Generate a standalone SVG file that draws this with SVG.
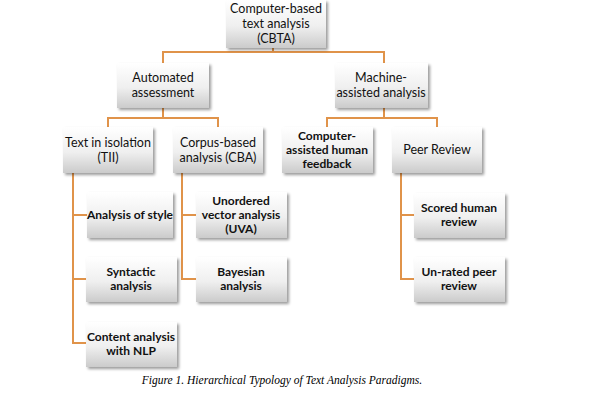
<svg xmlns="http://www.w3.org/2000/svg" width="595" height="402" viewBox="0 0 595 402">
<defs>
<linearGradient id="g" x1="0" y1="0" x2="0" y2="1">
<stop offset="0" stop-color="#ffffff"/>
<stop offset="0.55" stop-color="#efefef"/>
<stop offset="1" stop-color="#cbcbcb"/>
</linearGradient>
<filter id="sh" x="-10%" y="-10%" width="125%" height="130%">
<feGaussianBlur in="SourceAlpha" stdDeviation="1.5"/>
<feOffset dx="1.5" dy="2" result="b"/>
<feComponentTransfer><feFuncA type="linear" slope="0.4"/></feComponentTransfer>
<feMerge><feMergeNode/><feMergeNode in="SourceGraphic"/></feMerge>
</filter>
</defs>
<style>
rect.n{fill:url(#g);filter:url(#sh);}
text{font-family:Lato,"Open Sans","Liberation Sans",sans-serif;font-size:12.5px;fill:#111;text-anchor:middle;}
text.b{font-weight:bold;font-size:12px;}
.c path{fill:none;stroke:#E0934A;stroke-width:2;}
text.cap{font-family:"Liberation Serif","Times New Roman",serif;font-style:italic;font-size:11.5px;fill:#000;}
</style>
<rect width="595" height="402" fill="#ffffff"/>
<g class="c">
<path d="M273,48 V52 M163,63 V52 H384 V63"/>
<path d="M163,108 V118 M108,127 V118 H218 V127"/>
<path d="M384,108 V118 M327,127 V118 H437 V127"/>
<path d="M73,173 V343 H86 M73,215 H87 M73,279 H86"/>
<path d="M182,173 V279 H196 M182,215 H196"/>
<path d="M401,173 V279 H414 M401,215 H414"/>
</g>
<g id="cbta"><rect class="n" x="226" y="0" width="100" height="48"/><text x="276" y="13">Computer-based</text><text x="276" y="28">text analysis</text><text x="276" y="43">(CBTA)</text></g>
<g id="auto"><rect class="n" x="117" y="63" width="92" height="45"/><text x="163" y="82">Automated</text><text x="163" y="97">assessment</text></g>
<g id="mach"><rect class="n" x="335" y="63" width="93" height="45"/><text x="381" y="82">Machine-</text><text x="381" y="97">assisted analysis</text></g>
<g id="tii"><rect class="n" x="63" y="127" width="90" height="46"/><text x="108" y="147">Text in isolation</text><text x="108" y="162">(TII)</text></g>
<g id="cba"><rect class="n" x="173" y="127" width="90" height="46"/><text x="218" y="147">Corpus-based</text><text x="218" y="162">analysis (CBA)</text></g>
<g id="cahf"><rect class="n" x="282" y="127" width="91" height="46"/><text class="b" x="327" y="140">Computer-</text><text class="b" x="327" y="154">assisted human</text><text class="b" x="327" y="168">feedback</text></g>
<g id="peer"><rect class="n" x="392" y="127" width="90" height="46"/><text x="437" y="154">Peer Review</text></g>
<g id="style"><rect class="n" x="87" y="192" width="86" height="46"/><text class="b" x="130" y="219">Analysis of style</text></g>
<g id="uva"><rect class="n" x="196" y="192" width="91" height="46"/><text class="b" x="241" y="205">Unordered</text><text class="b" x="241" y="219">vector analysis</text><text class="b" x="241" y="233">(UVA)</text></g>
<g id="scored"><rect class="n" x="414" y="193" width="91" height="45"/><text class="b" x="459" y="212">Scored human</text><text class="b" x="459" y="226">review</text></g>
<g id="synt"><rect class="n" x="86" y="257" width="91" height="45"/><text class="b" x="131" y="276">Syntactic</text><text class="b" x="131" y="290">analysis</text></g>
<g id="bayes"><rect class="n" x="196" y="257" width="91" height="45"/><text class="b" x="241" y="276">Bayesian</text><text class="b" x="241" y="290">analysis</text></g>
<g id="unrated"><rect class="n" x="414" y="257" width="91" height="45"/><text class="b" x="459" y="276">Un-rated peer</text><text class="b" x="459" y="290">review</text></g>
<g id="nlp"><rect class="n" x="86" y="322" width="91" height="45"/><text class="b" x="131" y="341">Content analysis</text><text class="b" x="131" y="355">with NLP</text></g>
<text class="cap" x="282" y="384">Figure 1. Hierarchical Typology of Text Analysis Paradigms.</text>
</svg>
